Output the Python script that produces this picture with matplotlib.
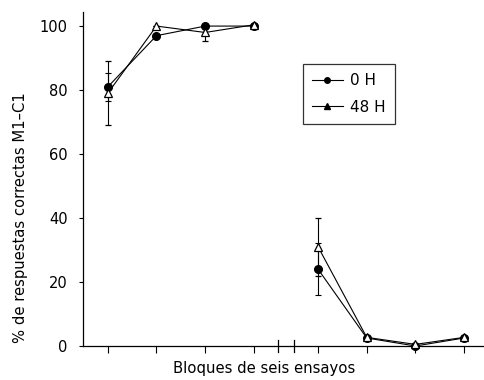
import matplotlib
matplotlib.use("Agg")
import matplotlib.pyplot as plt
from matplotlib.lines import Line2D
from matplotlib.transforms import blended_transform_factory

plt.rcParams['font.family'] = ['DejaVu Sans']

# positions of blocks (two groups separated by an axis break)
x_group1 = [1, 2, 3, 4]
x_group2 = [5.32, 6.32, 7.32, 8.32]
break_positions = [4.49, 4.82]

h0_g1 = [81, 97, 100, 100]
h0_g1_err = [4.3, 0, 0, 0]
h0_g2 = [24, 2.5, 0, 2.5]
h0_g2_err = [8.2, 0, 0, 0]

h48_g1 = [79, 100, 98, 100.4]
h48_g1_err = [10, 0, 2.7, 0]
h48_g2 = [31, 2.7, 0.5, 2.7]
h48_g2_err = [9, 0, 0, 0]

fig = plt.figure(figsize=(4.85, 3.8), dpi=100)
ax = fig.add_axes([83/485, 1-346/380, 1-83/485, (346-12)/380])

lw = 0.8
for xs, ys, es in [(x_group1, h0_g1, h0_g1_err), (x_group2, h0_g2, h0_g2_err)]:
    ax.errorbar(xs, ys, yerr=es, color='black', lw=lw, elinewidth=0.8, capsize=2.5,
                capthick=0.8, marker='o', ms=5.5, mfc='black', mec='black', clip_on=False, zorder=3)
for xs, ys, es in [(x_group1, h48_g1, h48_g1_err), (x_group2, h48_g2, h48_g2_err)]:
    ax.errorbar(xs, ys, yerr=es, color='black', lw=lw, elinewidth=0.8, capsize=2.5,
                capthick=0.8, marker='^', ms=6, mfc='white', mec='black', mew=0.9,
                clip_on=False, zorder=4)

ax.set_xlim(0.49, 8.75)
ax.set_ylim(0, 104.4)
ax.set_yticks([0, 20, 40, 60, 80, 100])
ax.set_xticks(x_group1 + x_group2)
ax.set_xticklabels([])
ax.tick_params(axis='y', direction='out', length=3, width=0.8, labelsize=10.5, pad=8)
ax.tick_params(axis='x', direction='out', length=5, width=0.8)
for s in ['top', 'right']:
    ax.spines[s].set_visible(False)
for s in ['left', 'bottom']:
    ax.spines[s].set_linewidth(0.9)

trans = blended_transform_factory(ax.transData, ax.transAxes)
for bp in break_positions:
    ax.plot([bp, bp], [-0.017, 0.017], transform=trans, color='black', lw=0.9, clip_on=False)

ax.set_ylabel('% de respuestas correctas M1–C1', fontsize=10.6)
ax.yaxis.set_label_coords((21-83)/402, (346-218)/334)
ax.set_xlabel('Bloques de seis ensayos', fontsize=10.7)
ax.xaxis.set_label_coords((264-83)/402, -(369-346)/334)
ax.xaxis.label.set_va('center')
ax.yaxis.label.set_va('center')

handles = [Line2D([], [], color='black', lw=lw, marker='o', ms=4, mfc='black'),
           Line2D([], [], color='black', lw=lw, marker='^', ms=5, mfc='black')]
leg = ax.legend(handles, ['0 H', '48 H'], loc='upper left',
                bbox_to_anchor=((303-83)/402, 1-(64-12)/334), fontsize=11,
                frameon=True, fancybox=False, edgecolor='black', handlelength=2.0,
                borderpad=0.6, labelspacing=0.75, handletextpad=0.5, borderaxespad=0)
leg.get_frame().set_linewidth(0.9)

fig.savefig('out.png', dpi=100)
